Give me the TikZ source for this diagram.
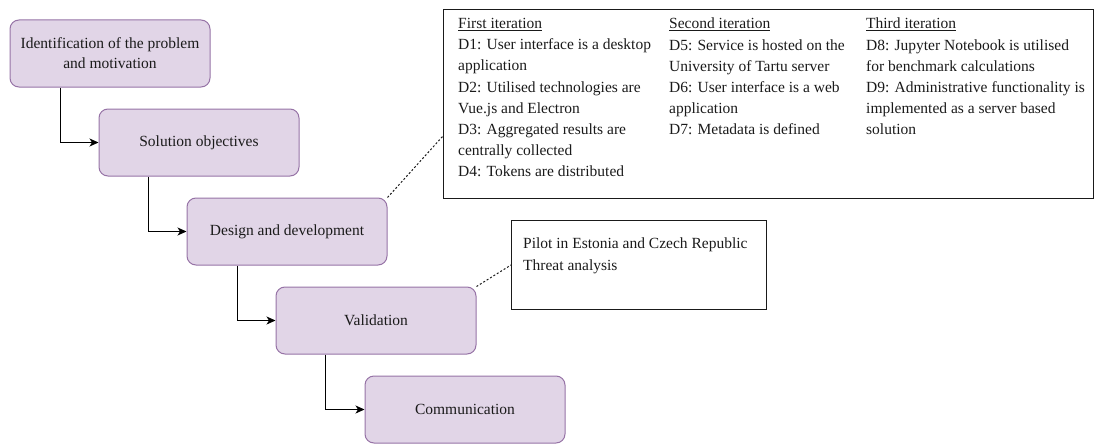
\documentclass[tikz,border=0pt]{standalone}
\usepackage{fontspec}
\setmainfont{Liberation Serif}
\usetikzlibrary{arrows.meta}
\definecolor{stepfill}{HTML}{E1D5E7}
\definecolor{stepline}{HTML}{9673A6}
\definecolor{inkgray}{HTML}{1A1A1A}
\begin{document}
\begin{tikzpicture}[x=1pt,y=-1pt,
  stepbox/.style={draw=stepline,fill=stepfill,line width=1pt,rounded corners=9pt,
    minimum width=200pt,minimum height=67pt,inner sep=0pt,align=center,
    font=\fontsize{15.5}{20}\selectfont,text=inkgray},
  notebox/.style={draw=inkgray,line width=1pt,inner sep=0pt},
  flow/.style={line width=1pt,-{Stealth[length=9pt,width=8pt,inset=2.5pt]}},
  linkline/.style={line width=1pt,dash pattern=on 2pt off 2pt,inkgray},
  coltext/.style={anchor=north west,inner sep=0pt,align=left,text=inkgray,
    font=\fontsize{15.5}{21.2}\selectfont},
]
\useasboundingbox (0,0) rectangle (1094,444);

% process steps
\node[stepbox] (s1) at (110,53.5) {Identification of the problem\\and motivation};
\node[stepbox] (s2) at (199,142.5) {Solution objectives};
\node[stepbox] (s3) at (287,231.5) {Design and development};
\node[stepbox] (s4) at (376,320.5) {Validation};
\node[stepbox] (s5) at (465,409.5) {Communication};

\draw[flow] ([xshift=-50pt]s1.south) |- (s2.west);
\draw[flow] ([xshift=-51pt]s2.south) |- (s3.west);
\draw[flow] ([xshift=-50pt]s3.south) |- (s4.west);
\draw[flow] ([xshift=-51pt]s4.south) |- (s5.west);

% design decisions per iteration
\node[notebox,minimum width=650pt,minimum height=189pt,anchor=north west] (dd) at (443,9) {};
\node[coltext] (c1) at (458,18) {\underline{First iteration}\\D1: User interface is a desktop\\application\\D2: Utilised technologies are\\Vue.js and Electron\\D3: Aggregated results are\\centrally collected\\D4: Tokens are distributed};
\node[coltext] (c2) at (669,18) {\underline{Second iteration}\\D5: Service is hosted on the\\University of Tartu server\\D6: User interface is a web\\application\\D7: Metadata is defined};
\node[coltext] (c3) at (866,18) {\underline{Third iteration}\\D8: Jupyter Notebook is utilised\\for benchmark calculations\\D9: Administrative functionality is\\implemented as a server based\\solution};

% validation activities
\node[notebox,minimum width=255pt,minimum height=89pt,anchor=north west] (va) at (511,220) {};
\node[coltext] (vt) at (523,238) {Pilot in Estonia and Czech Republic\\Threat analysis};

\draw[linkline] (s3.north east) -- ([yshift=-32pt]dd.west);
\draw[linkline] (s4.north east) -- (va.west);
\end{tikzpicture}
\end{document}
